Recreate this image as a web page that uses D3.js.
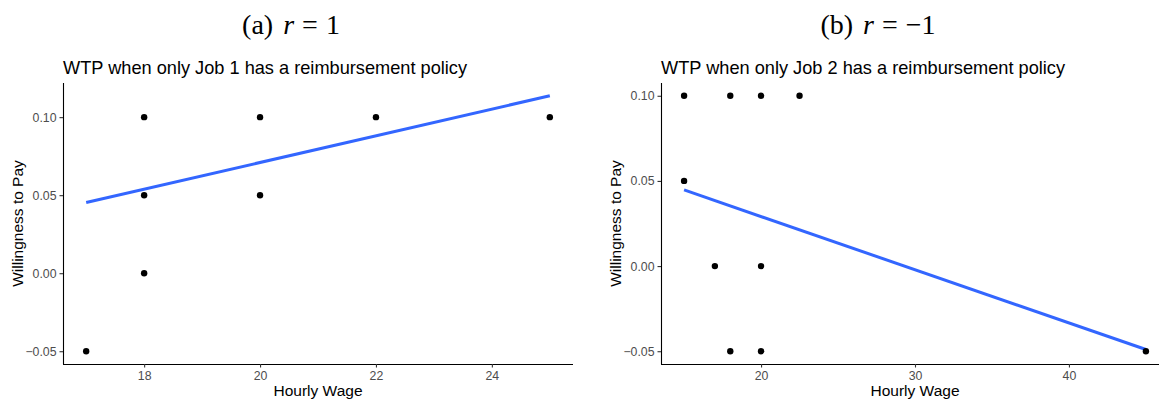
<!DOCTYPE html>
<html>
<head>
<meta charset="utf-8">
<script src="https://cdn.jsdelivr.net/npm/d3@7"></script>
<style>
  html, body { margin: 0; padding: 0; background: #fff; }
  svg { display: block; }
</style>
</head>
<body>
<svg id="chart" width="1159" height="401"></svg>
<script>
// Panel (a): only Job 1 has a reimbursement policy
const wageA = [17, 18, 18, 18, 20, 20, 22, 25];
const wtpA  = [-0.05, 0.10, 0.05, 0.00, 0.10, 0.05, 0.10, 0.10];
const fitWageA = [17, 25];
const fitWtpA  = [0.0453, 0.1137];
const xTicksA = [18, 20, 22, 24];

// Panel (b): only Job 2 has a reimbursement policy
const wageB = [15, 18, 20, 22.5, 15, 17, 20, 18, 20, 45];
const wtpB  = [0.10, 0.10, 0.10, 0.10, 0.05, 0.00, 0.00, -0.05, -0.05, -0.05];
const fitWageB = [15, 45];
const fitWtpB  = [0.0447, -0.049];
const xTicksB = [20, 30, 40];

const yTicks = [-0.05, 0.00, 0.05, 0.10];

const captions = [
  { tag: "(a)", rhs: "1" },
  { tag: "(b)", rhs: "\u22121" }
];
const titles = [
  "WTP when only Job 1 has a reimbursement policy",
  "WTP when only Job 2 has a reimbursement policy"
];

const svg = d3.select("#chart");

const panels = [
  { wage: wageA, wtp: wtpA, fx: fitWageA, fy: fitWtpA, xt: xTicksA,
    left: 63, right: 573, cap: 291, title: titles[0], caption: captions[0] },
  { wage: wageB, wtp: wtpB, fx: fitWageB, fy: fitWtpB, xt: xTicksB,
    left: 661, right: 1169, cap: 878, title: titles[1], caption: captions[1] }
];

const panelTop = 83, panelBottom = 364;
const sans = "'Liberation Sans', Arial, Helvetica, sans-serif";

// ggplot-style 5% expansion around the data extent
function expand(ext) {
  const pad = (ext[1] - ext[0]) * 0.05;
  return [ext[0] - pad, ext[1] + pad];
}

panels.forEach(p => {
  const xs = p.wage.concat(p.fx);
  const ys = p.wtp.concat(p.fy);
  const x = d3.scaleLinear().domain(expand(d3.extent(xs))).range([p.left, p.right]);
  const y = d3.scaleLinear().domain(expand(d3.extent(ys))).range([panelBottom, panelTop]);

  const g = svg.append("g");

  // subfigure caption, math-style spacing around the relation sign
  const cap = g.append("text")
    .attr("x", p.cap).attr("y", 34)
    .attr("text-anchor", "middle")
    .attr("font-family", "'Liberation Serif', 'DejaVu Serif', serif")
    .attr("font-size", 28)
    .attr("fill", "#000");
  cap.append("tspan").text(p.caption.tag);
  cap.append("tspan").attr("dx", 10).attr("font-style", "italic").text("r");
  cap.append("tspan").attr("dx", 8).text("=");
  cap.append("tspan").attr("dx", 8).text(p.caption.rhs);

  // plot title
  g.append("text")
    .attr("x", p.left).attr("y", 74)
    .attr("font-family", sans)
    .attr("font-size", 18.2)
    .attr("fill", "#000")
    .text(p.title);

  // axes
  const xAxis = d3.axisBottom(x).tickValues(p.xt).tickSize(3.5).tickPadding(4)
    .tickFormat(d3.format("d"));
  const yAxis = d3.axisLeft(y).tickValues(yTicks).tickSize(3.5).tickPadding(3)
    .tickFormat(d3.format(".2f"));

  const gx = g.append("g").attr("transform", `translate(0,${panelBottom})`).call(xAxis);
  const gy = g.append("g").attr("transform", `translate(${p.left},0)`).call(yAxis);

  [gx, gy].forEach(a => {
    a.select(".domain").attr("stroke", "#000").attr("stroke-width", 1.1);
    a.selectAll(".tick line").attr("stroke", "#333").attr("stroke-width", 1.1);
    a.selectAll(".tick text")
      .attr("fill", "#4d4d4d")
      .attr("font-family", sans)
      .attr("font-size", 12.3);
  });
  gy.select(".domain").attr("d", `M0.5,${panelBottom}V${panelTop}`);
  gx.select(".domain").attr("d", `M${p.left},0.5H${p.right}`);

  // axis titles
  g.append("text")
    .attr("x", (p.left + p.right) / 2).attr("y", 396)
    .attr("text-anchor", "middle")
    .attr("font-family", sans)
    .attr("font-size", 15.5)
    .attr("fill", "#000")
    .text("Hourly Wage");

  g.append("text")
    .attr("transform", `translate(${p.left - 40},${(panelTop + panelBottom) / 2}) rotate(-90)`)
    .attr("text-anchor", "middle")
    .attr("font-family", sans)
    .attr("font-size", 15.5)
    .attr("fill", "#000")
    .text("Willingness to Pay");

  // fitted line
  const line = d3.line().x(d => x(d[0])).y(d => y(d[1]));
  g.append("path")
    .datum(d3.zip(p.fx, p.fy))
    .attr("d", line)
    .attr("fill", "none")
    .attr("stroke", "#3366FF")
    .attr("stroke-width", 3);

  // observations
  g.selectAll("circle.pt")
    .data(d3.zip(p.wage, p.wtp))
    .join("circle")
    .attr("class", "pt")
    .attr("cx", d => x(d[0]))
    .attr("cy", d => y(d[1]))
    .attr("r", 3.2)
    .attr("fill", "#000");
});
</script>
</body>
</html>
